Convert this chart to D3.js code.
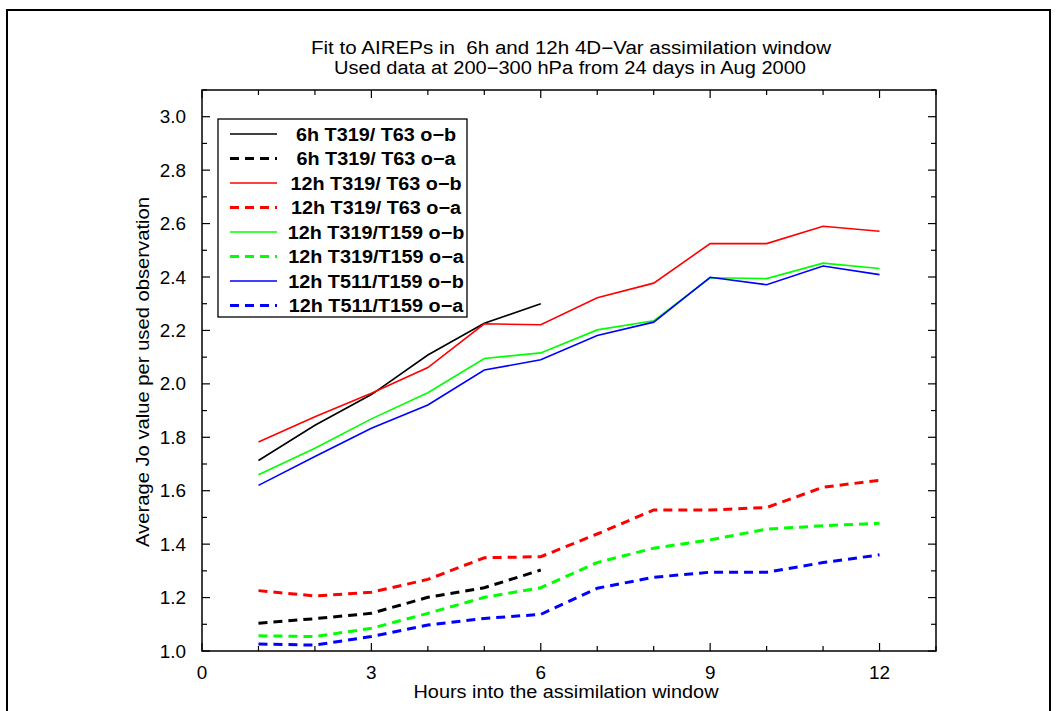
<!DOCTYPE html>
<html>
<head>
<meta charset="utf-8">
<script src="https://cdn.jsdelivr.net/npm/d3@7"></script>
<style>
  body { margin: 0; background: #fff; }
  text { font-family: "Liberation Sans", Arial, sans-serif; fill: #000; }
</style>
</head>
<body>
<svg width="1056" height="711"></svg>
<script>
// hours into the window
const hours6 = [1, 2, 3, 4, 5, 6];
const hours12 = [1, 2, 3, 4, 5, 6, 7, 8, 9, 10, 11, 12];

// average Jo per used observation
const ob6T319T63 = [1.713, 1.845, 1.96, 2.108, 2.227, 2.30];
const oa6T319T63 = [1.104, 1.121, 1.141, 1.201, 1.237, 1.303];
const ob12T319T63 = [1.782, 1.877, 1.965, 2.061, 2.225, 2.221, 2.322, 2.377, 2.525, 2.525, 2.59, 2.571];
const oa12T319T63 = [1.226, 1.206, 1.22, 1.268, 1.349, 1.353, 1.438, 1.528, 1.528, 1.537, 1.613, 1.639];
const ob12T319T159 = [1.66, 1.759, 1.869, 1.967, 2.095, 2.116, 2.202, 2.236, 2.397, 2.394, 2.452, 2.432];
const oa12T319T159 = [1.057, 1.054, 1.085, 1.141, 1.201, 1.237, 1.331, 1.385, 1.416, 1.456, 1.469, 1.478];
const ob12T511T159 = [1.62, 1.728, 1.834, 1.921, 2.052, 2.09, 2.181, 2.231, 2.399, 2.371, 2.441, 2.409];
const oa12T511T159 = [1.026, 1.022, 1.054, 1.097, 1.122, 1.137, 1.235, 1.276, 1.295, 1.295, 1.331, 1.36];

const seriesNames = [
  "6h T319/ T63 o\u2212b", "6h T319/ T63 o\u2212a",
  "12h T319/ T63 o\u2212b", "12h T319/ T63 o\u2212a",
  "12h T319/T159 o\u2212b", "12h T319/T159 o\u2212a",
  "12h T511/T159 o\u2212b", "12h T511/T159 o\u2212a"
];
const seriesColors = ["#000", "#000", "#ff0000", "#ff0000", "#00ff00", "#00ff00", "#0000ff", "#0000ff"];

const xTicks = [0, 3, 6, 9, 12];
const yTicks = [1.0, 1.2, 1.4, 1.6, 1.8, 2.0, 2.2, 2.4, 2.6, 2.8, 3.0];

const series = [
  { x: hours6, y: ob6T319T63 }, { x: hours6, y: oa6T319T63 },
  { x: hours12, y: ob12T319T63 }, { x: hours12, y: oa12T319T63 },
  { x: hours12, y: ob12T319T159 }, { x: hours12, y: oa12T319T159 },
  { x: hours12, y: ob12T511T159 }, { x: hours12, y: oa12T511T159 }
].map((s, i) => ({ ...s, name: seriesNames[i], color: seriesColors[i], dashed: i % 2 === 1 }));

const svg = d3.select("svg");
const L = 202, R = 936, T = 90, B = 651;

// the original lettering is wider than Liberation Sans, so stretch it a bit
function stretch(sel, k) {
  sel.each(function () {
    const w = this.getComputedTextLength();
    d3.select(this).attr("textLength", w * k).attr("lengthAdjust", "spacingAndGlyphs");
  });
}

// outer frame
svg.append("rect").attr("x", 7).attr("y", 10).attr("width", 1043).attr("height", 720)
  .attr("fill", "none").attr("stroke", "#000").attr("stroke-width", 2);

const x = d3.scaleLinear().domain([0, 13]).range([L, R]);
const y = d3.scaleLinear().domain([1.0, 3.1]).range([B, T]);

// title
svg.append("text").attr("x", 571).attr("y", 54).attr("text-anchor", "middle")
  .attr("xml:space", "preserve").style("font-size", "18px")
  .text("Fit to AIREPs in  6h and 12h 4D\u2212Var assimilation window")
  .attr("textLength", 520).attr("lengthAdjust", "spacingAndGlyphs");
svg.append("text").attr("x", 570).attr("y", 74).attr("text-anchor", "middle")
  .style("font-size", "18px").text("Used data at 200\u2212300 hPa from 24 days in Aug 2000")
  .attr("textLength", 472).attr("lengthAdjust", "spacingAndGlyphs");

// axes with inward ticks on all sides
const minorX = d3.range(0, 14, 1);
const minorY = d3.range(1.0, 3.101, 0.1);
const g = svg.append("g").attr("stroke", "#000").attr("stroke-width", 1.2);
minorX.forEach(v => {
  const len = v % 3 === 0 ? 8 : 5;
  g.append("line").attr("x1", x(v)).attr("x2", x(v)).attr("y1", B).attr("y2", B - len);
  g.append("line").attr("x1", x(v)).attr("x2", x(v)).attr("y1", T).attr("y2", T + len);
});
minorY.forEach((v, i) => {
  const len = i % 2 === 0 ? 8 : 5;
  g.append("line").attr("y1", y(v)).attr("y2", y(v)).attr("x1", L).attr("x2", L + len);
  g.append("line").attr("y1", y(v)).attr("y2", y(v)).attr("x1", R).attr("x2", R - len);
});
svg.append("rect").attr("x", L).attr("y", T).attr("width", R - L).attr("height", B - T)
  .attr("fill", "none").attr("stroke", "#000").attr("stroke-width", 1.5);

svg.append("g").selectAll("text").data(xTicks).join("text")
  .attr("x", d => x(d)).attr("y", B + 28).attr("text-anchor", "middle")
  .style("font-size", "17.5px").text(d => d).call(stretch, 1.08);
svg.append("g").selectAll("text").data(yTicks).join("text")
  .attr("x", L - 16).attr("y", d => y(d) + 6.5).attr("text-anchor", "end")
  .style("font-size", "17.5px").text(d => d.toFixed(1)).call(stretch, 1.08);

svg.append("text").attr("x", 566).attr("y", 698).attr("text-anchor", "middle")
  .style("font-size", "17.5px").text("Hours into the assimilation window")
  .attr("textLength", 305).attr("lengthAdjust", "spacingAndGlyphs");
svg.append("text").attr("transform", "translate(149,372) rotate(-90)")
  .attr("text-anchor", "middle").style("font-size", "17.5px")
  .text("Average Jo value per used observation")
  .attr("textLength", 350).attr("lengthAdjust", "spacingAndGlyphs");

// lines
const line = d3.line().x(d => x(d[0])).y(d => y(d[1]));
svg.append("g").selectAll("path").data(series).join("path")
  .attr("d", s => line(s.x.map((h, i) => [h, s.y[i]])))
  .attr("fill", "none").attr("stroke", s => s.color)
  .attr("stroke-width", s => s.dashed ? 3 : 1.6)
  .attr("stroke-dasharray", s => s.dashed ? "9,6" : null);

// legend
const lg = svg.append("g");
lg.append("rect").attr("x", 218).attr("y", 119).attr("width", 249).attr("height", 198)
  .attr("fill", "#fff").attr("stroke", "#000").attr("stroke-width", 1.3);
series.forEach((s, i) => {
  const yy = 134 + i * 24.5;
  lg.append("line").attr("x1", 230).attr("x2", 277).attr("y1", yy).attr("y2", yy)
    .attr("stroke", s.color).attr("stroke-width", s.dashed ? 3 : 1.6)
    .attr("stroke-dasharray", s.dashed ? "9,6" : null);
  lg.append("text").attr("x", 376).attr("y", yy + 6.5).attr("text-anchor", "middle")
    .style("font-size", "18px").style("font-weight", "bold").text(s.name)
    .call(stretch, 1.1);
});
</script>
</body>
</html>
